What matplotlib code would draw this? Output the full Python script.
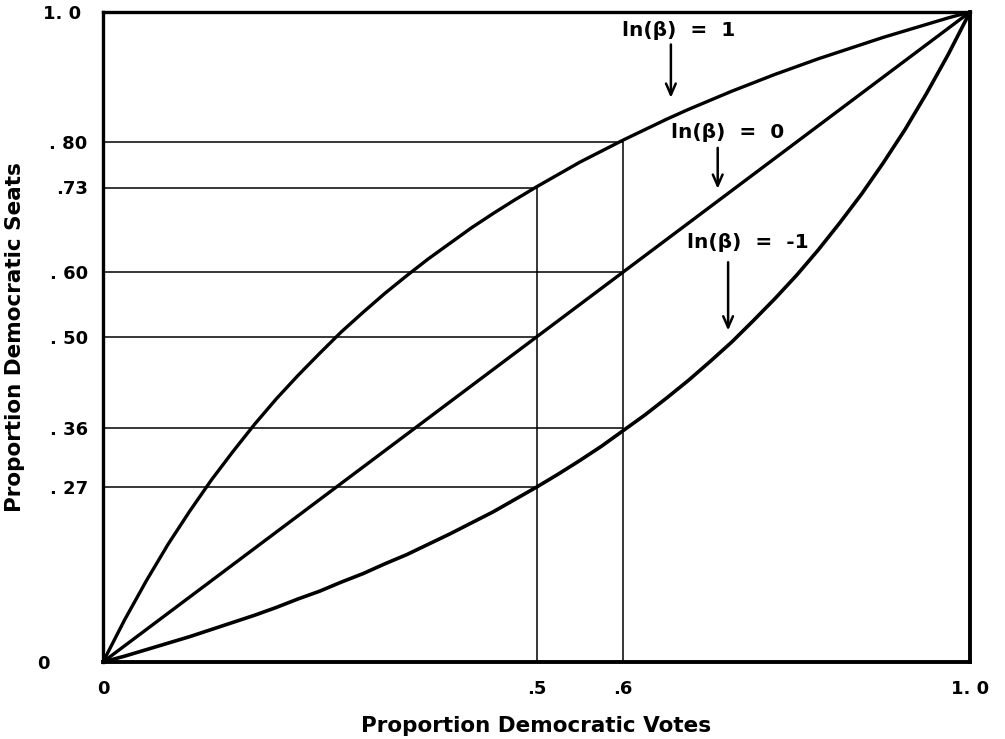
import matplotlib
matplotlib.use("Agg")
import matplotlib.pyplot as plt

plt.rcParams['font.family'] = ['DejaVu Sans']

# proportion of votes (x) sampled along the curves
votes = [0.0, 0.025, 0.05, 0.075, 0.1, 0.125, 0.15, 0.175, 0.2, 0.225, 0.25,
         0.275, 0.3, 0.325, 0.35, 0.375, 0.4, 0.425, 0.45, 0.475, 0.5,
         0.525, 0.55, 0.575, 0.6, 0.625, 0.65, 0.675, 0.7, 0.725, 0.75,
         0.775, 0.8, 0.825, 0.85, 0.875, 0.9, 0.925, 0.95, 0.975, 1.0]

# ln(beta) = 1
seats_pos = [0.0, 0.065, 0.125, 0.181, 0.232, 0.280, 0.324, 0.366, 0.405, 0.441, 0.475,
             0.508, 0.538, 0.567, 0.594, 0.620, 0.644, 0.668, 0.690, 0.711, 0.731,
             0.750, 0.769, 0.786, 0.803, 0.819, 0.835, 0.850, 0.864, 0.878, 0.891,
             0.904, 0.916, 0.928, 0.939, 0.950, 0.961, 0.971, 0.981, 0.991, 1.0]

# ln(beta) = -1
seats_neg = [0.0, 0.009, 0.019, 0.029, 0.039, 0.050, 0.061, 0.072, 0.084, 0.097, 0.109,
             0.123, 0.136, 0.151, 0.165, 0.181, 0.197, 0.214, 0.231, 0.250, 0.269,
             0.289, 0.310, 0.332, 0.356, 0.380, 0.406, 0.433, 0.462, 0.492, 0.525,
             0.559, 0.595, 0.634, 0.676, 0.720, 0.768, 0.819, 0.875, 0.935, 1.0]

# ln(beta) = 0
votes_mid = [0.0, 1.0]
seats_mid = [0.0, 1.0]

# reference guide lines
ref_votes = [0.6, 0.5, 0.6, 0.5, 0.6, 0.5]
ref_seats = [0.80, 0.73, 0.60, 0.50, 0.36, 0.27]

ytick_vals = [0.0, 0.27, 0.36, 0.50, 0.60, 0.73, 0.80, 1.0]
ytick_labels = ["0      ", ". 27", ". 36", ". 50", ". 60", ".73", ". 80", "1. 0 "]
xtick_vals = [0.0, 0.5, 0.6, 1.0]
xtick_labels = ["0", ".5", ".6", "1. 0"]

curve_labels = ["ln(β)  =  1", "ln(β)  =  0", "ln(β)  =  -1"]

fig = plt.figure(figsize=(10.05, 7.39), dpi=100)
ax = fig.add_axes([103/1005, 77/739, 867/1005, 650/739])

ax.set_xlim(0, 1)
ax.set_ylim(0, 1)

# guide lines
for v, s in zip(ref_votes, ref_seats):
    ax.plot([0, v], [s, s], color='black', lw=1.1, solid_capstyle='butt', zorder=2)
ax.plot([0.5, 0.5], [0, 0.73], color='black', lw=1.1, zorder=2)
ax.plot([0.6, 0.6], [0, 0.80], color='black', lw=1.1, zorder=2)

# curves
ax.plot(votes, seats_pos, color='black', lw=2.4, zorder=3, solid_capstyle='round')
ax.plot(votes_mid, seats_mid, color='black', lw=2.4, zorder=3)
ax.plot(votes, seats_neg, color='black', lw=2.6, zorder=3, solid_capstyle='round')

for side in ['left', 'right', 'top', 'bottom']:
    ax.spines[side].set_linewidth(2.4)
    ax.spines[side].set_color('black')
ax.spines['right'].set_linewidth(2.8)
ax.spines['bottom'].set_linewidth(2.8)

ax.set_xticks(xtick_vals)
ax.set_xticklabels(xtick_labels)
ax.set_yticks(ytick_vals)
ax.set_yticklabels(ytick_labels)
ax.tick_params(axis='both', length=0, labelsize=13)
ax.tick_params(axis='y', pad=11)
ax.tick_params(axis='x', pad=13)
for lab in ax.get_xticklabels() + ax.get_yticklabels():
    lab.set_fontweight('bold')

ax.set_xlabel("Proportion Democratic Votes", fontsize=15.5, fontweight='bold')
ax.set_ylabel("Proportion Democratic Seats", fontsize=15.5, fontweight='bold')
ax.xaxis.set_label_coords(0.5, -54/650)
ax.yaxis.set_label_coords(-78/867, 0.50)

# annotations
text_pos = [(0.664, 0.972), (0.720, 0.815), (0.744, 0.645)]
arrow_pos = [(0.655, 0.950, 0.868), (0.709, 0.791, 0.728), (0.721, 0.615, 0.510)]
for lbl, (tx, ty), (ax_x, y0, y1) in zip(curve_labels, text_pos, arrow_pos):
    ax.text(tx, ty, lbl, fontsize=14.5, fontweight='bold', ha='center', va='center', zorder=4)
    ax.annotate('', xy=(ax_x, y1), xytext=(ax_x, y0),
                arrowprops=dict(arrowstyle='->,head_length=0.8,head_width=0.35',
                                lw=1.8, color='black', shrinkA=0, shrinkB=0),
                zorder=4)

fig.savefig("out.png", dpi=100)
